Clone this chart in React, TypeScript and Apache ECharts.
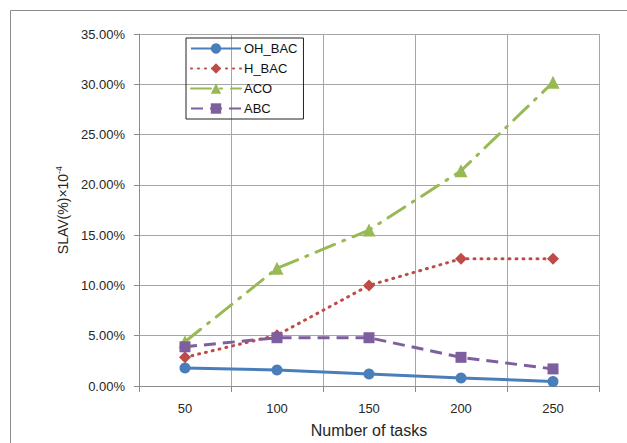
import React, { useEffect, useRef } from "react";
import * as echarts from "echarts";

// Number of tasks (category axis)
const tasks = ["50", "100", "150", "200", "250"];

// SLAV values in percent
const ohBac = [1.8, 1.6, 1.2, 0.8, 0.45];
const hBac = [2.85, 5.05, 10.0, 12.65, 12.65];
const aco = [4.4, 11.7, 15.5, 21.4, 30.2];
const abc = [3.9, 4.8, 4.8, 2.85, 1.7];

const FONT = "Liberation Sans";

export default function App() {
  const ref = useRef<HTMLDivElement>(null);

  useEffect(() => {
    if (!ref.current) return;
    const chart = echarts.init(ref.current, undefined, { renderer: "svg" });

    const gridColor = "#a6a6a6";
    const axisColor = "#8c8c8c";
    const textColor = "#262626";

    chart.setOption({
      animation: false,
      backgroundColor: "#ffffff",
      textStyle: { fontFamily: FONT },
      graphic: [
        {
          type: "polyline",
          shape: { points: [[10.5, 443], [10.5, 10.5], [627, 10.5]] },
          style: { stroke: "#8c8c8c", lineWidth: 1, fill: "none" },
          silent: true,
        },
      ],
      grid: { left: 139, top: 34, right: 28, bottom: 54 },
      legend: {
        orient: "vertical",
        left: 186,
        top: 38,
        padding: [4, 6, 4, 4],
        borderColor: "#222",
        borderWidth: 1,
        itemWidth: 50,
        itemHeight: 13,
        itemGap: 7,
        textStyle: { fontFamily: FONT, fontSize: 13, color: "#111", padding: [0, 0, 0, -2] },
        data: ["OH_BAC", "H_BAC", "ACO", "ABC"],
      },
      xAxis: {
        type: "category",
        data: tasks,
        boundaryGap: true,
        name: "Number of tasks",
        nameLocation: "middle",
        nameGap: 36,
        nameTextStyle: { fontFamily: FONT, fontSize: 16, color: textColor },
        axisLine: { lineStyle: { color: axisColor, width: 1 } },
        axisTick: { show: true, length: 6, lineStyle: { color: axisColor } },
        axisLabel: { margin: 16, fontSize: 13, color: textColor, fontFamily: FONT },
        splitLine: { show: true, lineStyle: { color: gridColor, width: 1 } },
      },
      yAxis: {
        type: "value",
        min: 0,
        max: 35,
        interval: 5,
        name: "{a|SLAV(%)×10}{s|-4}",
        nameLocation: "middle",
        nameGap: 68,
        nameTextStyle: {
          fontFamily: FONT,
          color: textColor,
          rich: {
            a: { fontSize: 14, fontFamily: FONT, color: textColor },
            s: { fontSize: 9, fontFamily: FONT, color: textColor, verticalAlign: "top", padding: [0, 0, 8, 0] },
          },
        },
        axisLine: { show: true, lineStyle: { color: axisColor, width: 1 } },
        axisTick: { show: true, length: 5, lineStyle: { color: axisColor } },
        axisLabel: {
          margin: 14,
          fontSize: 13,
          color: textColor,
          fontFamily: FONT,
          formatter: (v: number) => v.toFixed(2) + "%",
        },
        splitLine: { show: true, lineStyle: { color: gridColor, width: 1 } },
      },
      series: [
        {
          name: "OH_BAC",
          type: "line",
          data: ohBac,
          symbol: "circle",
          symbolSize: 11,
          itemStyle: { color: "#4a7ebb" },
          lineStyle: { color: "#4a7ebb", width: 3 },
        },
        {
          name: "H_BAC",
          type: "line",
          data: hBac,
          symbol: "diamond",
          symbolSize: 12,
          itemStyle: { color: "#be4b48" },
          lineStyle: { color: "#be4b48", width: 3, type: [1, 6], cap: "round" },
        },
        {
          name: "ACO",
          type: "line",
          data: aco,
          symbol: "triangle",
          symbolSize: 13,
          itemStyle: { color: "#98b954" },
          lineStyle: { color: "#98b954", width: 3, type: [20, 9, 2, 9], cap: "round" },
        },
        {
          name: "ABC",
          type: "line",
          data: abc,
          symbol: "rect",
          symbolSize: 11,
          itemStyle: { color: "#7d5fa0" },
          lineStyle: { color: "#7d5fa0", width: 3, type: [12, 7] },
        },
      ],
    });

    return () => chart.dispose();
  }, []);

  return <div ref={ref} style={{ width: 627, height: 443, position: "absolute", left: 0, top: 0 }} />;
}
